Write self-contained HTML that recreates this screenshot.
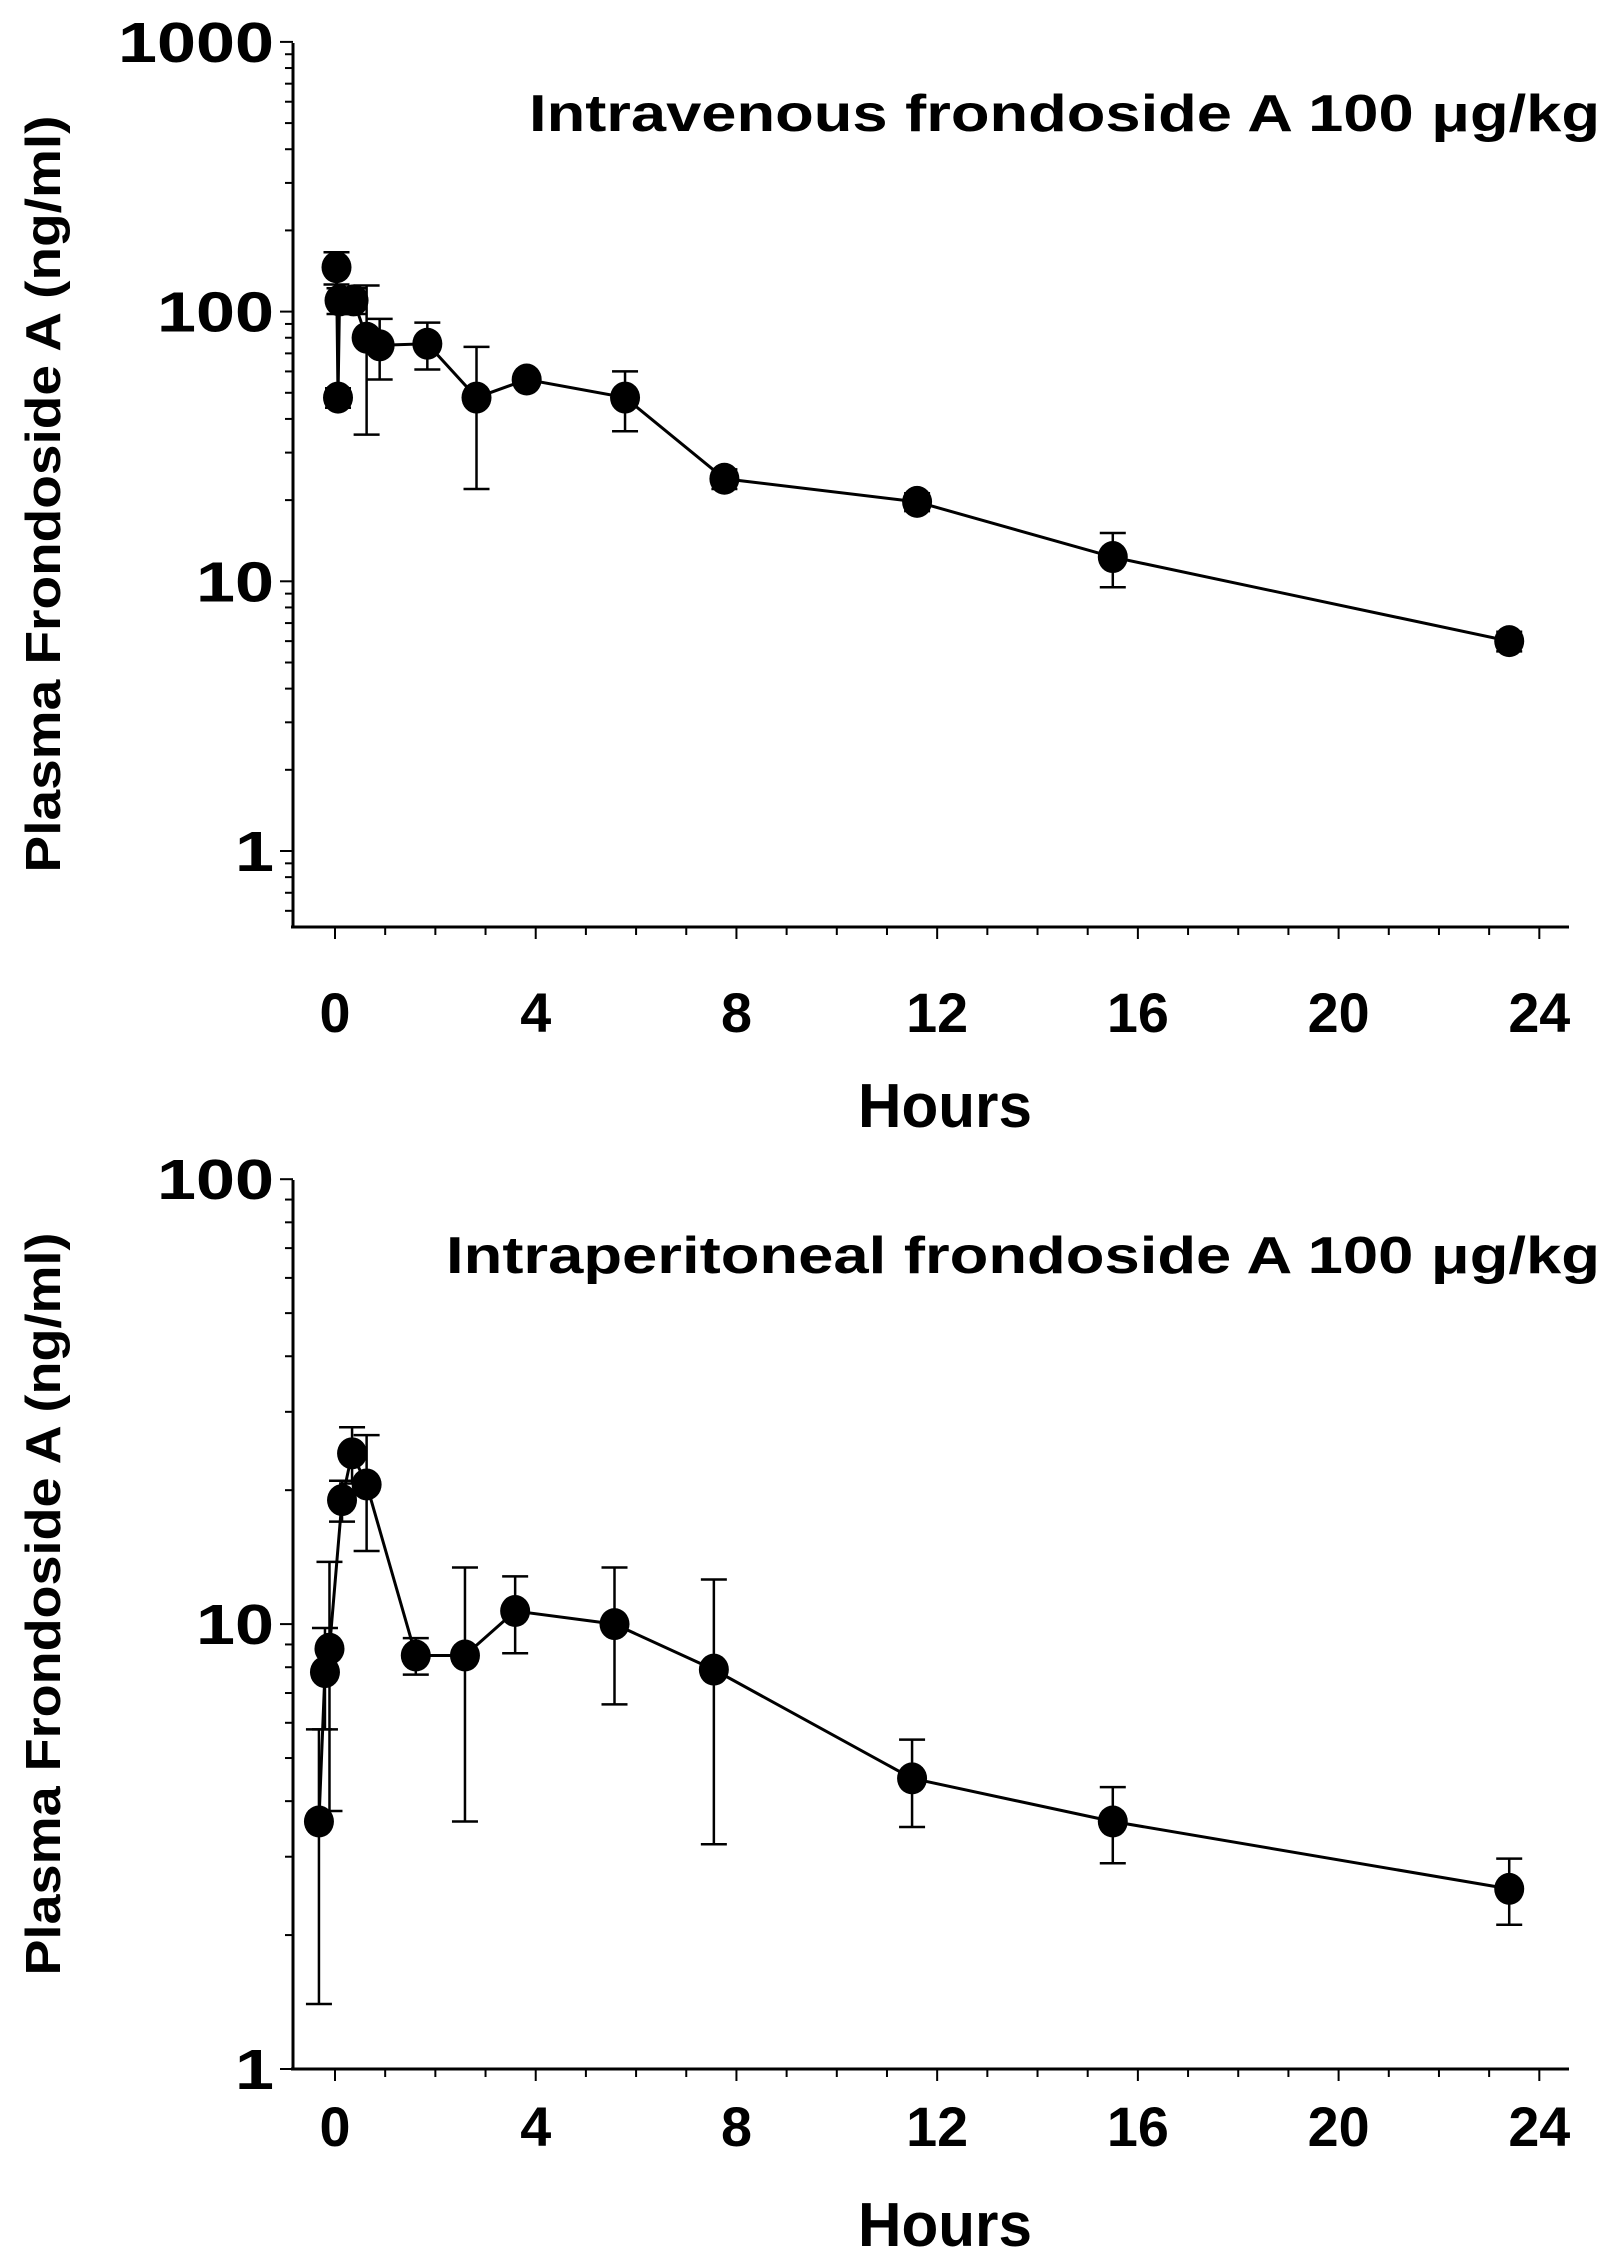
<!DOCTYPE html>
<html><head><meta charset="utf-8"><style>
html,body{margin:0;padding:0;background:#fff}
svg{display:block}
text{font-family:"Liberation Sans Narrow","Liberation Sans",sans-serif;font-weight:bold;fill:#000}
</style></head><body>
<svg id="chart" width="1615" height="2262" viewBox="0 0 1615 2262" xmlns="http://www.w3.org/2000/svg"></svg>
<script>
// Top panel data (intravenous)
const ivHours = [0.03, 0.06, 0.09, 0.37, 0.63, 0.89, 1.84, 2.82, 3.82, 5.78, 7.76, 11.6, 15.5, 23.4];
const ivConc  = [146, 48, 110, 110, 80, 75, 76, 48, 56, 48, 24, 19.7, 12.3, 6.0];
const ivSd    = [20, 4, 12, 12, 45, 19, 15, 26, 3, 12, 2, 1.5, 2.8, 0.5];
// Bottom panel data (intraperitoneal)
const ipHours = [-0.32, -0.2, -0.11, 0.14, 0.34, 0.63, 1.61, 2.59, 3.59, 5.57, 7.55, 11.5, 15.5, 23.4];
const ipConc  = [3.6, 7.8, 8.8, 19, 24.2, 20.6, 8.5, 8.5, 10.7, 10, 7.9, 4.5, 3.6, 2.54];
const ipSd    = [2.2, 2, 5, 2, 3.5, 6, 0.8, 4.9, 2.1, 3.4, 4.7, 1, 0.7, 0.43];
const xTickLabels = ["0","4","8","12","16","20","24"];
const xTickValues = [0,4,8,12,16,20,24];

const NS = "http://www.w3.org/2000/svg";
const svg = document.getElementById("chart");
function el(tag, attrs, parent){
  const e = document.createElementNS(NS, tag);
  for (const k in attrs) e.setAttribute(k, attrs[k]);
  (parent||svg).appendChild(e);
  return e;
}
function xScale(h){ return 335 + h*50.18; }

function panel(cfg){
  const g = el("g", {});
  
  
  const yS = v => cfg.y1 - Math.log10(v)*cfg.dec;
  const ya = el("line", {x1:293, y1:cfg.top, x2:293, y2:cfg.axisY, stroke:"#000","stroke-width":3}, g);
  
  
  const xa = el("line", {x1:291, y1:cfg.axisY, x2:1569, y2:cfg.axisY, stroke:"#000","stroke-width":3}, g);
  
  
  for (let d = cfg.minDec; d < cfg.maxDec; d++){
    for (let m = 1; m <= 9; m++){
      const v = m*Math.pow(10,d);
      const y = yS(v);
      if (y > cfg.axisY+1) continue;
      el("line", {x1: m===1?280:285, y1:y, x2:293, y2:y, stroke:"#000","stroke-width":2}, g);
    }
  }
  const yt = yS(Math.pow(10,cfg.maxDec));
  el("line", {x1:280, y1:yt, x2:293, y2:yt, stroke:"#000","stroke-width":2}, g);
  for (let d = cfg.minDec; d <= cfg.maxDec; d++){
    const v = Math.pow(10,d); const y = yS(v);
    if (y > cfg.axisY+30) continue;
    const s = String(v);
    const t = el("text", {x:274, y:y+20, "text-anchor":"end","font-size":57, textLength:s.length*39, lengthAdjust:"spacingAndGlyphs"}, g);
    t.textContent = s;
    
    
  }
  for (let h = 0; h <= 24; h++){
    const x = xScale(h);
    el("line", {x1:x, y1:cfg.axisY, x2:x, y2:cfg.axisY+(h%4===0?12:8), stroke:"#000","stroke-width":2}, g);
  }
  xTickValues.forEach((h,i)=>{
    const s = xTickLabels[i];
    const t = el("text", {x:xScale(h), y:cfg.xLabY, "text-anchor":"middle","font-size":56, textLength:s.length*31, lengthAdjust:"spacingAndGlyphs"}, g);
    t.textContent = s;
    
    
  });
  const xt = el("text", {x:945, y:cfg.hoursY, "text-anchor":"middle","font-size":62, textLength:174, lengthAdjust:"spacingAndGlyphs"}, g);
  xt.textContent = "Hours";
  
  
  const ytl = el("text", {x:0, y:0, "text-anchor":"middle","font-size":49, style:"font-family:'Liberation Sans',sans-serif", transform:`translate(${cfg.ytX},${cfg.ytY}) rotate(-90)`, textLength:cfg.ytLen, lengthAdjust:"spacingAndGlyphs"}, g);
  ytl.textContent = "Plasma Frondoside A (ng/ml)";
  
  
  const ti = el("text", {x:cfg.titleX, y:cfg.titleY, "font-size":52, textLength:cfg.titleLen, lengthAdjust:"spacingAndGlyphs"}, g);
  ti.textContent = cfg.title;
  
  
  const pts = cfg.hours.map((h,i)=>xScale(h)+","+yS(cfg.conc[i])).join(" ");
  const pl = el("polyline", {points:pts, fill:"none", stroke:"#000","stroke-width":3}, g);
  
  
  cfg.hours.forEach((h,i)=>{
    const x = xScale(h), v = cfg.conc[i], s = cfg.sd[i];
    const yu = yS(v+s), yl = yS(Math.max(v-s, 0.01));
    const eg = el("g", {stroke:"#000","stroke-width":2.5}, g);
    
    
    el("line", {x1:x, y1:yu, x2:x, y2:yl}, eg);
    el("line", {x1:x-13, y1:yu, x2:x+13, y2:yu}, eg);
    el("line", {x1:x-13, y1:yl, x2:x+13, y2:yl}, eg);
    const c = el("ellipse", {cx:x, cy:yS(v), rx:15, ry:16, fill:"#000"}, g);
    
    
  });
}

panel({name:"intravenous-panel", hours:ivHours, conc:ivConc, sd:ivSd,
  y1:851, dec:269.7, top:43, axisY:927, minDec:-1, maxDec:3,
  xLabY:1032, hoursY:1127, ytX:60, ytY:494, ytLen:757,
  title:"Intravenous frondoside A 100 μg/kg", titleX:529, titleY:131, titleLen:1071});
panel({name:"intraperitoneal-panel", hours:ipHours, conc:ipConc, sd:ipSd,
  y1:2069, dec:444.9, top:1180, axisY:2069, minDec:0, maxDec:2,
  xLabY:2146, hoursY:2246, ytX:60, ytY:1604, ytLen:743,
  title:"Intraperitoneal frondoside A 100 μg/kg", titleX:446, titleY:1273, titleLen:1154});
</script>
</body></html>
